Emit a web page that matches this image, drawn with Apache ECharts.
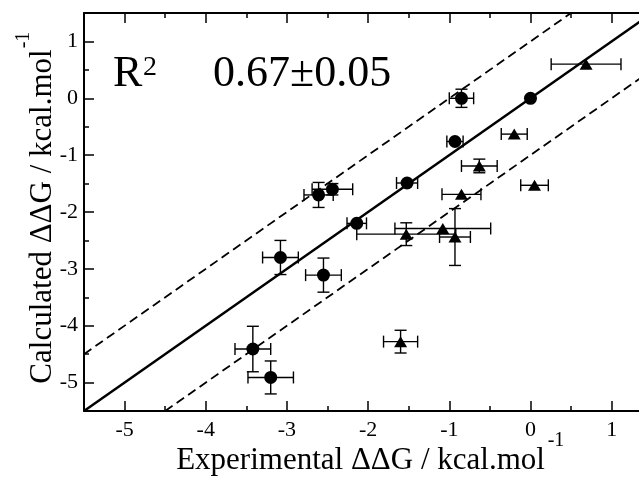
<!DOCTYPE html>
<html><head><meta charset="utf-8">
<script src="https://cdn.jsdelivr.net/npm/echarts@6/dist/echarts.min.js"></script>
<style>html,body{margin:0;padding:0;background:#fff}#c{width:639px;height:479px}</style>
</head><body><div id="c"></div>
<script>
// Circles (set 1)
const circleX    = [0.00, -0.85, -0.93, -1.52, -2.61, -2.44, -2.14, -3.08, -2.55, -3.42, -3.20];
const circleY    = [0.00,  0.00, -0.76, -1.49, -1.70, -1.60, -2.20, -2.80, -3.11, -4.41, -4.91];
const circleXErr = [0,     0.15,  0.10,  0.13,  0.18,  0.25,  0.12,  0.22,  0.22,  0.22,  0.28];
const circleYErr = [0,     0.16,  0,     0,     0.22,  0.10,  0,     0.30,  0.30,  0.40,  0.29];
// Triangles (set 2)
const triX    = [0.685, -0.20, -0.63,  0.05, -0.85, -1.53, -1.08, -0.93, -1.60];
const triY    = [0.60,  -0.63, -1.19, -1.53, -1.69, -2.39, -2.29, -2.44, -4.28];
const triXErr = [0.43,   0.16,  0.22,  0.17,  0.24,  0.61,  0.59,  0.19,  0.21];
const triYErr = [0,      0,     0.12,  0,     0,     0.20,  0,     0.50,  0.20];
// Reference lines
const idealX = [-5.5, 1.5], idealY = [-5.5, 1.5];
const upperX = [-5.5, 0.5], upperY = [-4.5, 1.5];
const lowerX = [-4.5, 1.5], lowerY = [-5.5, 0.5];
// Ticks
const xMajor = [-5, -4, -3, -2, -1, 0, 1];
const xMinor = [-4.5, -3.5, -2.5, -1.5, -0.5, 0.5];
const yMajor = [-5, -4, -3, -2, -1, 0, 1];
const yMinor = [-4.5, -3.5, -2.5, -1.5, -0.5, 0.5];
// visible extents (the original figure is cropped at the right edge)
const xRange = [-5.5, 1.337], yRange = [-5.5, 1.5];

const FONT = 'Liberation Serif';
const zip = (a, b) => a.map((v, i) => [v, b[i]]);
const zip4 = (a, b, c, d) => a.map((v, i) => [v, b[i], c[i], d[i]]);

function axis(kind, position, ticks, len, showLabel, showLine) {
  const range = kind === 'x' ? xRange : yRange;
  return {
    type: 'value', gridIndex: 0, position: position,
    min: range[0], max: range[1],
    axisLine: {show: showLine, onZero: false, lineStyle: {color: '#000', width: 2}},
    axisTick: {show: len > 0, inside: true, length: len, customValues: ticks, lineStyle: {color: '#000', width: 1.5}},
    axisLabel: {show: showLabel, customValues: ticks, margin: kind === 'x' ? 8 : 6,
      color: '#000', fontSize: 22, fontFamily: FONT},
    splitLine: {show: false}
  };
}

function errRender(params, api) {
  const x = api.value(0), y = api.value(1), ex = api.value(2), ey = api.value(3);
  const cap = 6, style = {stroke: '#000', lineWidth: 1.4, fill: null};
  const ch = [];
  if (ex > 0) {
    const a = api.coord([x - ex, y]), b = api.coord([x + ex, y]);
    ch.push({type: 'line', shape: {x1: a[0], y1: a[1], x2: b[0], y2: b[1]}, style});
    ch.push({type: 'line', shape: {x1: a[0], y1: a[1] - cap, x2: a[0], y2: a[1] + cap}, style});
    ch.push({type: 'line', shape: {x1: b[0], y1: b[1] - cap, x2: b[0], y2: b[1] + cap}, style});
  }
  if (ey > 0) {
    const a = api.coord([x, y - ey]), b = api.coord([x, y + ey]);
    ch.push({type: 'line', shape: {x1: a[0], y1: a[1], x2: b[0], y2: b[1]}, style});
    ch.push({type: 'line', shape: {x1: a[0] - cap, y1: a[1], x2: a[0] + cap, y2: a[1]}, style});
    ch.push({type: 'line', shape: {x1: b[0] - cap, y1: b[1], x2: b[0] + cap, y2: b[1]}, style});
  }
  return {type: 'group', children: ch};
}

const chart = echarts.init(document.getElementById('c'), null, {renderer: 'canvas'});
chart.setOption({
  animation: false,
  backgroundColor: '#fff',
  grid: {left: 84, top: 13, right: 0, bottom: 68, containLabel: false},
  xAxis: [
    axis('x', 'bottom', xMajor, 10, true, true),
    axis('x', 'bottom', xMinor, 5, false, false),
    axis('x', 'top', xMajor, 10, false, true),
    axis('x', 'top', xMinor, 5, false, false)
  ],
  yAxis: [
    axis('y', 'left', yMajor, 10, true, true),
    axis('y', 'left', yMinor, 5, false, false)
  ],
  series: [
    {type: 'line', data: zip(idealX, idealY), showSymbol: false, symbol: 'none',
      lineStyle: {color: '#000', width: 2.5}, silent: true},
    {type: 'line', data: zip(upperX, upperY), showSymbol: false, symbol: 'none',
      lineStyle: {color: '#000', width: 1.8, type: [9, 5]}, silent: true},
    {type: 'line', data: zip(lowerX, lowerY), showSymbol: false, symbol: 'none',
      lineStyle: {color: '#000', width: 1.8, type: [9, 5]}, silent: true},
    {type: 'custom', renderItem: errRender, data: zip4(circleX, circleY, circleXErr, circleYErr), clip: true},
    {type: 'custom', renderItem: errRender, data: zip4(triX, triY, triXErr, triYErr), clip: true},
    {type: 'scatter', data: zip(circleX, circleY), symbol: 'circle', symbolSize: 13,
      itemStyle: {color: '#000', opacity: 1}},
    {type: 'scatter', data: zip(triX, triY), symbol: 'triangle', symbolSize: [13, 11],
      itemStyle: {color: '#000', opacity: 1}}
  ],
  graphic: [
    {type: 'text', x: 113, y: 74, style: {text: 'R', fontSize: 44, fontFamily: FONT, fill: '#000', align: 'left', verticalAlign: 'middle', textAlign: 'left', textVerticalAlign: 'middle'}},
    {type: 'text', x: 143, y: 68, style: {text: '2', fontSize: 28, fontFamily: FONT, fill: '#000', align: 'left', verticalAlign: 'middle', textAlign: 'left', textVerticalAlign: 'middle'}},
    {type: 'text', x: 213, y: 74.5, style: {text: '0.67±0.05', fontSize: 44, fontFamily: FONT, fill: '#000', align: 'left', verticalAlign: 'middle', textAlign: 'left', textVerticalAlign: 'middle'}},
    {type: 'text', x: 360.5, y: 461, style: {text: 'Experimental ΔΔG / kcal.mol', fontSize: 31, fontFamily: FONT, fill: '#000', align: 'center', verticalAlign: 'middle', textAlign: 'center', textVerticalAlign: 'middle'}},
    {type: 'text', x: 556, y: 441, style: {text: '-1', fontSize: 20, fontFamily: FONT, fill: '#000', align: 'center', verticalAlign: 'middle', textAlign: 'center', textVerticalAlign: 'middle'}},
    {type: 'text', x: 42.7, y: 216.5, rotation: Math.PI / 2, style: {text: 'Calculated ΔΔG / kcal.mol', fontSize: 31, fontFamily: FONT, fill: '#000', align: 'center', verticalAlign: 'middle', textAlign: 'center', textVerticalAlign: 'middle'}},
    {type: 'text', x: 24, y: 40, rotation: Math.PI / 2, style: {text: '-1', fontSize: 20, fontFamily: FONT, fill: '#000', align: 'center', verticalAlign: 'middle', textAlign: 'center', textVerticalAlign: 'middle'}}
  ]
});
</script>
</body></html>
